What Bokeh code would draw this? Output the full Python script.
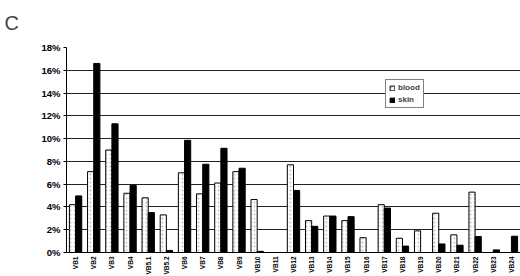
from bokeh.plotting import figure
from bokeh.models import ColumnDataSource, FactorRange, FixedTicker, PrintfTickFormatter, Legend, LegendItem
from bokeh.transform import dodge
from bokeh.embed import file_html
from bokeh.resources import INLINE
import math

categories = ["VB1", "VB2", "VB3", "VB4", "VB5.1", "VB5.2", "VB6", "VB7", "VB8", "VB9",
              "VB10", "VB11", "VB12", "VB13", "VB14", "VB15", "VB16", "VB17", "VB18",
              "VB19", "VB20", "VB21", "VB22", "VB23", "VB24"]
blood = [4.2, 7.1, 9.0, 5.2, 4.8, 3.3, 7.0, 5.15, 6.1, 7.1,
         4.65, 0.0, 7.7, 2.8, 3.2, 2.8, 1.3, 4.2, 1.25,
         1.9, 3.45, 1.55, 5.3, 0.0, 0.0]
skin = [4.97, 16.6, 11.3, 5.9, 3.5, 0.18, 9.85, 7.75, 9.15, 7.4,
        0.1, 0.0, 5.45, 2.3, 3.2, 3.15, 0.0, 3.9, 0.56,
        0.0, 0.75, 0.64, 1.4, 0.23, 1.43]
y_ticks = [0, 2, 4, 6, 8, 10, 12, 14, 16, 18]

src = ColumnDataSource(dict(cat=categories, blood=blood, skin=skin))

p = figure(width=520, height=276, frame_width=454, frame_height=205,
           x_range=FactorRange(*categories, range_padding=0),
           y_range=(0, 18), output_backend="svg", toolbar_location=None,
           min_border_left=66, min_border_top=47, min_border_bottom=0, min_border_right=0,
           title="C")
p.outline_line_color = None
p.title.text_font = "Liberation Sans"
p.title.text_font_size = "20px"
p.title.text_font_style = "normal"
p.title.align = "left"
p.title.vertical_align = "top"
p.title.offset = -62
p.title.standoff = 23

bw = 0.34
rb = p.vbar(x=dodge("cat", -0.17, range=p.x_range), top="blood", width=bw, source=src,
            fill_color="white", line_color="black", line_width=1,
            hatch_pattern="dot", hatch_color="#999999", hatch_scale=4, hatch_alpha=0.6)
rs = p.vbar(x=dodge("cat", 0.17, range=p.x_range), top="skin", width=bw, source=src,
            fill_color="black", line_color="black", line_width=1)

p.xgrid.grid_line_color = None
p.ygrid.grid_line_color = "#222222"
p.ygrid.grid_line_width = 1
p.ygrid.ticker = FixedTicker(ticks=y_ticks)

p.yaxis.ticker = FixedTicker(ticks=y_ticks)
p.yaxis.formatter = PrintfTickFormatter(format="%d%%")
p.yaxis.major_label_text_font = "Liberation Sans"
p.yaxis.major_label_text_font_style = "bold"
p.yaxis.major_label_text_font_size = "9.5px"
p.yaxis.major_label_text_color = "black"
p.yaxis.axis_line_color = "black"
p.yaxis.major_tick_line_color = "black"
p.yaxis.major_tick_out = 3
p.yaxis.major_tick_in = 0
p.yaxis.minor_tick_line_color = None
p.yaxis.major_label_standoff = 3

p.xaxis.major_label_orientation = math.pi / 2
p.xaxis.major_label_text_font = "Liberation Sans"
p.xaxis.major_label_text_font_style = "bold"
p.xaxis.major_label_text_font_size = "6.5px"
p.xaxis.major_label_text_color = "black"
p.xaxis.axis_line_color = "black"
p.xaxis.major_tick_line_color = None
p.xaxis.major_tick_out = 0
p.xaxis.major_label_standoff = 4

legend = Legend(items=[LegendItem(label="blood", renderers=[rb]),
                       LegendItem(label="skin", renderers=[rs])],
                location=(319, 144), border_line_color="black", border_line_width=1,
                background_fill_color="white", background_fill_alpha=1,
                label_text_font="Liberation Sans", label_text_font_style="bold",
                label_text_font_size="8px", glyph_width=6, glyph_height=6,
                label_standoff=3, padding=3, spacing=3, margin=0, label_height=9)
p.add_layout(legend, "center")

open("out.html", "w").write(file_html(p, INLINE))
